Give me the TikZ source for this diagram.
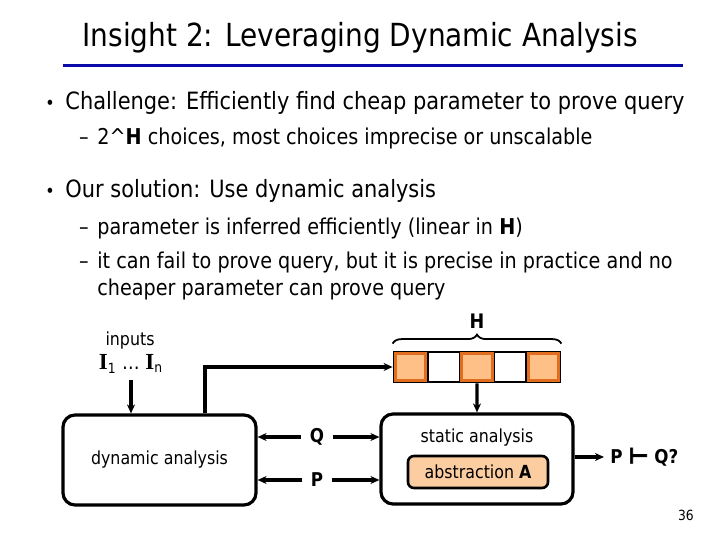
\documentclass[tikz,border=0pt]{standalone}
\usepackage{fontspec}
\setmainfont[FakeStretch=0.88]{DejaVu Sans}
\newfontfamily\serifbold{Liberation Serif}
\newfontfamily\heavysym[FakeBold=3]{DejaVu Sans}
\usetikzlibrary{arrows.meta, decorations.pathreplacing, positioning}

\definecolor{ruleblue}{RGB}{10,10,170}
\definecolor{cellfill}{RGB}{255,192,136}
\definecolor{celledge}{RGB}{225,110,30}
\definecolor{absfill}{RGB}{252,205,160}

\tikzset{
  bultxt/.style={anchor=base west, inner sep=0pt, font=\fontsize{11.9}{14}\selectfont},
  subtxt/.style={anchor=base west, inner sep=0pt, font=\fontsize{10.9}{13}\selectfont},
  mark dot/.style={anchor=base, inner sep=0pt, font=\fontsize{9}{11}\selectfont},
  anabox/.style={draw, rounded corners=6pt, line width=1.6pt, minimum width=96.5pt, minimum height=45pt, font=\fontsize{9}{11}\selectfont},
  hcell/.style={draw, line width=1.4pt, minimum width=16.6pt, minimum height=15pt, inner sep=0pt},
  flowlbl/.style={font=\bfseries\fontsize{9.5}{11}\selectfont, inner sep=4pt},
  arr/.style={-{Stealth[length=4.5pt,width=4pt]}, line width=1.7pt},
}

\begin{document}
\begin{tikzpicture}[x=0.5pt, y=-0.5pt]
	\useasboundingbox (0,0) rectangle (720,540);

	% Title
	\node[anchor=base, inner sep=0pt, font=\fontsize{15.9}{18}\selectfont] (title) at (360,47) {Insight 2: Leveraging Dynamic Analysis};
	\draw[ruleblue, line width=1.5pt] (63,66) -- (683,66);

	% Bullets
	\node[mark dot] (dot1) at (50,110) {•};
	\node[bultxt] (bul1) at (65,110) {Challenge: Efficiently find cheap parameter to prove query};
	\node[subtxt, anchor=base] (dash1) at (84,145) {–};
	\node[subtxt] (sub1) at (97,145) {2\textasciicircum\textbf{H} choices, most choices imprecise or unscalable};
	\node[mark dot] (dot2) at (50,198) {•};
	\node[bultxt] (bul2) at (65,198) {Our solution: Use dynamic analysis};
	\node[subtxt, anchor=base] (dash2) at (84,235) {–};
	\node[subtxt] (sub2) at (97,235) {parameter is inferred efficiently (linear in \textbf{H})};
	\node[subtxt, anchor=base] (dash3) at (84,269) {–};
	\node[subtxt] (sub3) at (97,269) {it can fail to prove query, but it is precise in practice and no};
	\node[subtxt] (sub3b) at (97,296) {cheaper parameter can prove query};

	% Parameter array
	\foreach \i/\f in {1/cellfill, 2/white, 3/cellfill, 4/white, 5/cellfill}
		\node[hcell, fill=\f] (c\i) at ({394+33.2*(\i-0.5)},367) {};
	\foreach \i in {1,3,5}
		\draw[celledge, line width=1.4pt] ([shift={(1.4pt,-1.4pt)}]c\i.north west) rectangle ([shift={(-1.4pt,1.4pt)}]c\i.south east);
	\draw[decorate, decoration={brace, amplitude=4.5pt}, line width=0.9pt]
		([yshift=3.5pt]c1.north west) -- ([yshift=3.5pt]c5.north east)
		node[midway, above=7pt, font=\bfseries\fontsize{10}{12}\selectfont, inner sep=0pt] (hlbl) {H};

	% Inputs
	\node[font=\fontsize{9}{11}\selectfont, inner sep=0pt] (inlbl) at (130,341) {inputs};
	\node[font=\fontsize{10}{12}\selectfont, inner sep=0pt] (ins) at (131,364)
		{{\serifbold\bfseries\fontsize{11.5}{13}\selectfont I}\textsubscript{1} … {\serifbold\bfseries\fontsize{11.5}{13}\selectfont I}\textsubscript{n}};

	% Analyses
	\node[anabox] (dyn) at (159.5,460) {dynamic analysis};
	\node[anabox, minimum width=96pt] (stat) at (477,459) {};
	\node[font=\fontsize{9}{11}\selectfont] (stattxt) at (477,438) {static analysis};
	\node[draw, fill=absfill, rounded corners=3pt, line width=1.3pt, minimum width=70pt, minimum height=16pt, font=\fontsize{9}{11}\selectfont] (abs) at (478,472) {abstraction \textbf{A}};

	% Connectors
	\coordinate (tap) at (205,367);
	\draw[arr] ([yshift=-3pt]ins.south) -- (ins.south |- dyn.north);
	\draw[arr] (dyn.north -| tap) -- (tap |- c1.west) -- (c1.west);
	\draw[arr] (c3.south) -- (stat.north);
	\node[flowlbl] (q) at (317,437) {Q};
	\node[flowlbl] (p) at (317,480) {P};
	\draw[arr] (q.west) -- (q.west -| dyn.east);
	\draw[arr] (q.east) -- (q.east -| stat.west);
	\draw[arr] (p.west) -- (p.west -| dyn.east);
	\draw[arr] (p.east) -- (p.east -| stat.west);
	\node[anchor=west, inner sep=3pt, font=\bfseries\fontsize{9.5}{11}\selectfont] (res) at (604,457) {P {\heavysym\fontsize{11}{11}\selectfont ⊢} Q?};
	\draw[arr] (stat.east |- res.west) -- (res.west);

	% Page number
	\node[font=\fontsize{7}{8}\selectfont] (pnum) at (686,515) {36};
\end{tikzpicture}
\end{document}
